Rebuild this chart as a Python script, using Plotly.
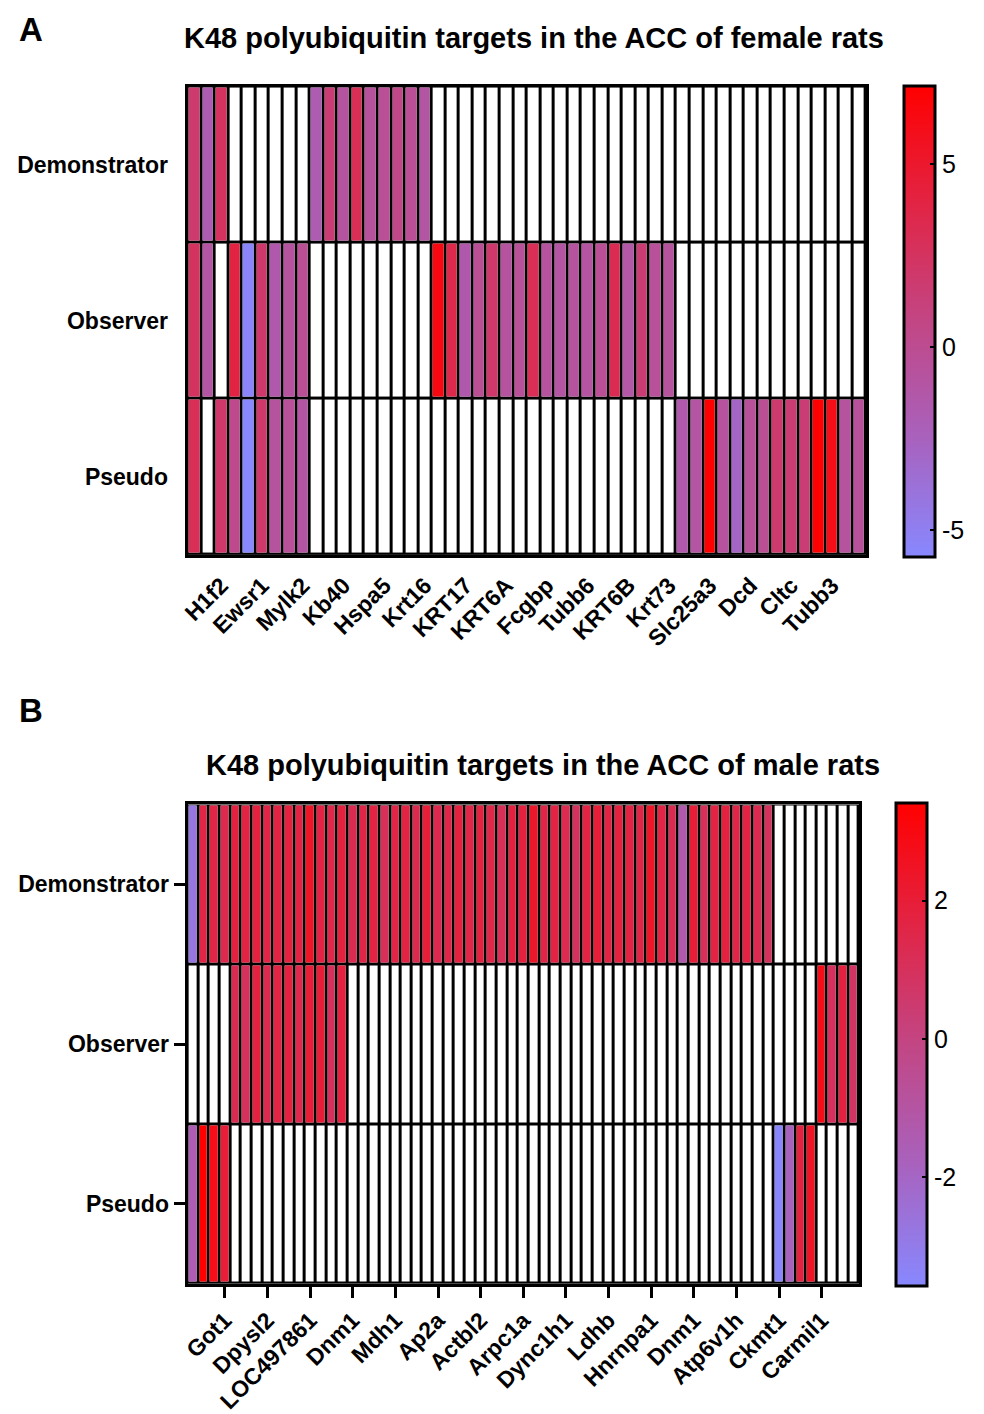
import plotly.graph_objects as go

# ---------------- data ----------------
rows = ["Demonstrator", "Observer", "Pseudo"]

# Panel A (female rats) - 50 proteins
labels_A = ["H1f2", "Ewsr1", "Mylk2", "Kb40", "Hspa5", "Krt16", "KRT17", "KRT6A",
            "Fcgbp", "Tubb6", "KRT6B", "Krt73", "Slc25a3", "Dcd", "Cltc", "Tubb3"]
N = None
demo_A = [1.8, -1.8, 2.5] + [N] * 6 + [-1.8, 1.5, -0.8, 3.0, -0.6, -0.3, 0.5, -0.3, -1.0] + [N] * 32
obs_A = ([2.5, -1.0, N, 4.0, -5.5, 2.0, -1.5, -0.8, -0.3] + [N] * 9 +
         [6.3, 3.5, -1.5, -0.3, 2.0, -0.8, -0.5, 3.0, -0.8, -1.0, -0.8, -0.9, -0.3, 3.2, -1.2, 1.5, -0.5, -0.8] +
         [N] * 14)
pseudo_A = ([3.0, N, 2.0, 0.2, -5.8, 2.0, -0.8, -0.5, -1.0] + [N] * 27 +
            [-1.5, -1.0, 7.1, -0.8, -2.8, -0.5, -0.3, 1.8, 1.5, 1.5, 7.0, 6.0, -0.8, -0.6])
range_A = [-5.73, 7.12]
cbar_ticks_A = [-5, 0, 5]
cbar_text_A = ["-5", "0", "5"]

# Panel B (male rats) - 63 proteins
labels_B = ["Got1", "Dpysl2", "LOC497861", "Dnm1", "Mdh1", "Ap2a", "Actbl2", "Arpc1a",
            "Dync1h1", "Ldhb", "Hnrnpa1", "Dnm1", "Atp6v1h", "Ckmt1", "Carmil1"]
demo_B = ([-2.8,
           1.6, 1.6, 1.4, 1.8, 1.7, 1.8, 1.6, 1.7, 1.8, 1.7, 2.4, 1.7, 1.5, 1.8, 1.3, 1.6, 1.7, 1.1,
           1.6, 1.7, 1.4, 2.0, 1.4, 1.6, 1.8, 1.5, 1.8, 1.5, 1.1, 1.8, 1.8, 2.3, 1.6, 1.7, 1.3, 1.0,
           1.7, 2.0, 1.7, 1.8, 1.7, 1.6, 2.4, 1.6, 1.3, -1.3, 2.0, 1.1, 1.7, 1.8, 1.6, 1.7, 1.3, 1.0]
          + [N] * 8)
obs_B = [N] * 4 + [1.3, 1.0, 1.8, 1.3, 1.6, 1.8, 1.4, 2.0, 2.0, 1.0, 1.8] + [N] * 44 + [2.8, 1.0, 1.8, 0.8]
pseudo_B = [-1.5, 3.4, 2.8, 2.0] + [N] * 51 + [-3.5, -1.8, 1.8, 2.5] + [N] * 4
range_B = [-3.57, 3.41]
cbar_ticks_B = [-2, 0, 2]
cbar_text_B = ["-2", "0", "2"]

# ---------------- figure ----------------
OFF = 8  # default page body margin
W, H = 984 - OFF, 1414 - OFF
FONT = "Liberation Sans, Arial, sans-serif"
cs = [[0, "rgb(136,136,255)"], [0.25, "rgb(168,98,190)"], [0.5, "rgb(194,70,132)"],
      [0.75, "rgb(226,36,68)"], [1, "rgb(255,0,0)"]]


def fx(x):
    return (x - OFF) / W


def fy(y):
    return 1 - (y - OFF) / H


fig = go.Figure()


def add_panel(z_rows, xa, ya, cax):
    n = len(z_rows[0])
    xs = list(range(n))
    fig.add_trace(go.Heatmap(z=[[1] * n for _ in rows], x=xs, y=rows,
                             colorscale=[[0, "white"], [1, "white"]], showscale=False,
                             xgap=3, ygap=3, hoverinfo="skip", xaxis=xa, yaxis=ya))
    fig.add_trace(go.Heatmap(z=z_rows, x=xs, y=rows, coloraxis=cax,
                             xgap=3, ygap=3, xaxis=xa, yaxis=ya))
    return n


nA = add_panel([demo_A, obs_A, pseudo_A], "x", "y", "coloraxis")
nB = add_panel([demo_B, obs_B, pseudo_B], "x2", "y2", "coloraxis2")

tickvals_A = list(range(2, nA, 3))[:len(labels_A)]
tickvals_B = list(range(3, nB, 4))[:len(labels_B)]

axis_common = dict(showline=True, linewidth=3, linecolor="black", mirror=True,
                   showgrid=False, zeroline=False)
tfont = dict(family=FONT, size=23, color="black", weight="bold")
cbfont = dict(family=FONT, size=25, color="black")

fig.update_layout(
    width=W, height=H,
    margin=dict(l=0, r=0, t=0, b=0),
    paper_bgcolor="white", plot_bgcolor="black",
    showlegend=False,
    xaxis=dict(domain=[fx(181), fx(865)], anchor="y", range=[-0.5, nA - 0.5],
               tickmode="array", tickvals=tickvals_A, ticktext=labels_A, tickangle=-45,
               ticks="outside", ticklen=5, tickcolor="rgba(0,0,0,0)", tickfont=tfont,
               **axis_common),
    yaxis=dict(domain=[fy(558), fy(87)], anchor="x", autorange="reversed",
               ticks="outside", ticklen=12, tickcolor="rgba(0,0,0,0)", tickfont=tfont,
               **axis_common),
    xaxis2=dict(domain=[fx(181), fx(858)], anchor="y2", range=[-0.5, nB - 0.5],
                tickmode="array", tickvals=tickvals_B, ticktext=labels_B, tickangle=-45,
                ticks="outside", ticklen=11, tickwidth=3, tickcolor="black", tickfont=tfont,
                **axis_common),
    yaxis2=dict(domain=[fy(1291), fy(809)], anchor="x2", autorange="reversed",
                ticks="outside", ticklen=11, tickwidth=3, tickcolor="black", tickfont=tfont,
                **axis_common),
    coloraxis=dict(cmin=range_A[0], cmax=range_A[1], colorscale=cs,
                   colorbar=dict(x=fx(903), xanchor="left", y=fy(323.5), yanchor="middle",
                                 len=471, lenmode="pixels", thickness=31, outlinewidth=3,
                                 outlinecolor="black", tickmode="array", tickvals=cbar_ticks_A,
                                 ticktext=cbar_text_A,
                                 ticks="inside", ticklen=6, tickwidth=2, tickcolor="black",
                                 tickfont=cbfont, xpad=0, ypad=0)),
    coloraxis2=dict(cmin=range_B[0], cmax=range_B[1], colorscale=cs,
                    colorbar=dict(x=fx(895), xanchor="left", y=fy(1050.5), yanchor="middle",
                                  len=483, lenmode="pixels", thickness=31, outlinewidth=3,
                                  outlinecolor="black", tickmode="array", tickvals=cbar_ticks_B,
                                  ticktext=cbar_text_B,
                                  ticks="inside", ticklen=6, tickwidth=2, tickcolor="black",
                                  tickfont=cbfont, xpad=0, ypad=0)),
)

for txt, px, py in [("<b>A</b>", 9, 9), ("<b>B</b>", 9, 694)]:
    fig.add_annotation(text=txt, x=fx(px), y=fy(py), xref="paper", yref="paper",
                       xanchor="left", yanchor="top", showarrow=False,
                       font=dict(family=FONT, size=33, color="black"))
fig.add_annotation(text="<b>K48 polyubiquitin targets in the ACC of female rats</b>",
                   x=fx(530), y=fy(38), xref="paper", yref="paper", xanchor="center",
                   yanchor="middle", showarrow=False,
                   font=dict(family=FONT, size=29, color="black"))
fig.add_annotation(text="<b>K48 polyubiquitin targets in the ACC of male rats</b>",
                   x=fx(539), y=fy(769), xref="paper", yref="paper", xanchor="center",
                   yanchor="middle", showarrow=False,
                   font=dict(family=FONT, size=29, color="black"))

fig.write_html("out.html")
